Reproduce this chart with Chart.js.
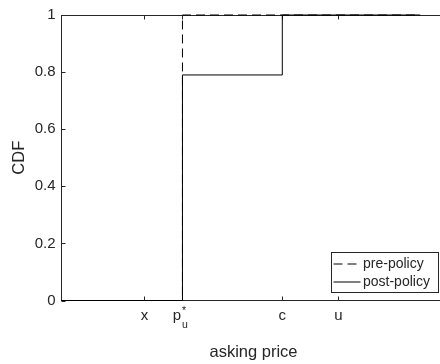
<!DOCTYPE html>
<html>
<head>
<meta charset="utf-8">
<script src="https://cdn.jsdelivr.net/npm/chart.js@4"></script>
<style>
  html, body { margin: 0; padding: 0; background: #fff; overflow: hidden; width: 440px; height: 364px; }
  #wrap { width: 460px; height: 364px; }
</style>
</head>
<body>
<div id="wrap"><canvas id="chart-cdf" width="460" height="364"></canvas></div>
<script>
// x axis runs 0..100 (arbitrary price units); the marked prices sit on it
const xTickValues = [21.6, 31.5, 57.5, 72.1];
const xTickLabels = ["x", "p*", "c", "u"];
const yTickValues = [0, 0.2, 0.4, 0.6, 0.8, 1];

const seriesNames = ["pre-policy", "post-policy"];
const prePolicyX = [0, 31.5, 31.5, 93.4];
const prePolicyY = [0, 0, 1, 1];
const postPolicyX = [0, 31.5, 31.5, 57.5, 57.5, 93.4];
const postPolicyY = [0, 0, 0.79, 0.79, 1, 1];

const FONT = "'Liberation Sans', Arial, Helvetica, sans-serif";
const AXIS_COLOR = "#262626";
const TICK_PAD = 6;

const toPoints = (xs, ys) => xs.map((x, i) => ({ x, y: ys[i] }));

// box round the axes + inward tick marks, like matlab
const axesBox = {
    id: "axesBox",
    beforeDatasetsDraw(chart) {
        const { ctx, chartArea: a, scales } = chart;
        ctx.save();
        ctx.strokeStyle = AXIS_COLOR;
        ctx.lineWidth = 1;
        const L = Math.floor(a.left) + 0.5, R = Math.floor(a.right) + 0.5;
        const T = Math.floor(a.top) + 0.5, B = Math.floor(a.bottom) + 0.5;
        ctx.strokeRect(L, T, R - L, B - T);
        ctx.beginPath();
        xTickValues.forEach((v) => {
            const px = Math.round(scales.x.getPixelForValue(v)) + 0.5;
            ctx.moveTo(px, B); ctx.lineTo(px, B - 4);
            ctx.moveTo(px, T); ctx.lineTo(px, T + 4);
        });
        yTickValues.forEach((v) => {
            const py = Math.round(scales.y.getPixelForValue(v)) + 0.5;
            ctx.moveTo(L, py); ctx.lineTo(L + 4, py);
            ctx.moveTo(R, py); ctx.lineTo(R - 4, py);
        });
        ctx.stroke();
        ctx.restore();
    },
};

// the p_u^* tick label needs a subscript and a superscript
const pStarLabel = {
    id: "pStarLabel",
    afterDraw(chart) {
        const { ctx, scales } = chart;
        const idx = xTickLabels.indexOf("p*");
        const px = scales.x.getPixelForValue(xTickValues[idx]);
        const base = scales.x.top + TICK_PAD + 9 + 4.5;
        ctx.save();
        ctx.fillStyle = AXIS_COLOR;
        ctx.textBaseline = "alphabetic";
        ctx.textAlign = "left";
        ctx.font = `15px ${FONT}`;
        ctx.fillText("p", px - 9.7, base);
        ctx.font = `10.5px ${FONT}`;
        ctx.fillText("u", px - 0.5, base + 8);
        ctx.fillText("*", px - 0.5, base - 6);
        ctx.restore();
    },
};

// legend inside the axes, bottom right
const boxLegend = {
    id: "boxLegend",
    afterDraw(chart) {
        const { ctx } = chart;
        const x0 = 331.5, y0 = 252.5, w = 107, h = 40;
        ctx.save();
        ctx.fillStyle = "#fff";
        ctx.fillRect(x0, y0, w, h);
        ctx.strokeStyle = AXIS_COLOR;
        ctx.lineWidth = 1;
        ctx.strokeRect(x0, y0, w, h);
        ctx.font = `14px ${FONT}`;
        ctx.textBaseline = "middle";
        ctx.textAlign = "left";
        chart.data.datasets.forEach((ds, i) => {
            const y = y0 + 11.5 + i * 18;
            ctx.strokeStyle = ds.borderColor;
            ctx.setLineDash(ds.borderDash || []);
            ctx.beginPath();
            ctx.moveTo(x0 + 2, y);
            ctx.lineTo(x0 + 29, y);
            ctx.stroke();
            ctx.setLineDash([]);
            ctx.fillStyle = AXIS_COLOR;
            ctx.fillText(ds.label, x0 + 31.5, y + 0.5);
        });
        ctx.restore();
    },
};

const ctx = document.getElementById("chart-cdf").getContext("2d");
new Chart(ctx, {
    type: "line",
    data: {
        datasets: [
            {
                label: seriesNames[0],
                data: toPoints(prePolicyX, prePolicyY),
                borderColor: "#000000",
                borderWidth: 1,
                borderDash: [9, 5],
                pointRadius: 0,
                fill: false,
                tension: 0,
                clip: 2,
            },
            {
                label: seriesNames[1],
                data: toPoints(postPolicyX, postPolicyY),
                borderColor: "#000000",
                borderWidth: 1,
                pointRadius: 0,
                fill: false,
                tension: 0,
                clip: 2,
            },
        ],
    },
    options: {
        responsive: false,
        animation: false,
        parsing: false,
        layout: { padding: { top: 13.5, right: 14.5, left: 0, bottom: 0 } },
        plugins: { legend: { display: false }, tooltip: { enabled: false } },
        scales: {
            x: {
                type: "linear",
                min: 0,
                max: 100,
                grid: { display: false, drawTicks: false },
                border: { display: false },
                afterBuildTicks: (s) => { s.ticks = xTickValues.map((v) => ({ value: v })); },
                afterFit: (s) => { s.height = 63.5; },
                ticks: {
                    autoSkip: false,
                    maxRotation: 0,
                    padding: TICK_PAD,
                    color: AXIS_COLOR,
                    font: { family: FONT, size: 15 },
                    callback: (v, i) => (xTickLabels[i] === "p*" ? "" : xTickLabels[i]),
                },
                title: {
                    display: true,
                    text: "asking price",
                    color: AXIS_COLOR,
                    font: { family: FONT, size: 16.5 },
                    padding: { top: 0, bottom: 2 },
                },
            },
            y: {
                min: 0,
                max: 1,
                grid: { display: false, drawTicks: false },
                border: { display: false },
                afterBuildTicks: (s) => { s.ticks = yTickValues.map((v) => ({ value: v })); },
                afterFit: (s) => { s.width = 61.5; },
                ticks: {
                    padding: TICK_PAD,
                    color: AXIS_COLOR,
                    font: { family: FONT, size: 15 },
                    callback: (v) => String(v),
                },
                title: {
                    display: true,
                    text: "CDF",
                    color: AXIS_COLOR,
                    font: { family: FONT, size: 16.5 },
                    padding: { top: 10, bottom: 0 },
                },
            },
        },
    },
    plugins: [axesBox, pStarLabel, boxLegend],
});
</script>
</body>
</html>
